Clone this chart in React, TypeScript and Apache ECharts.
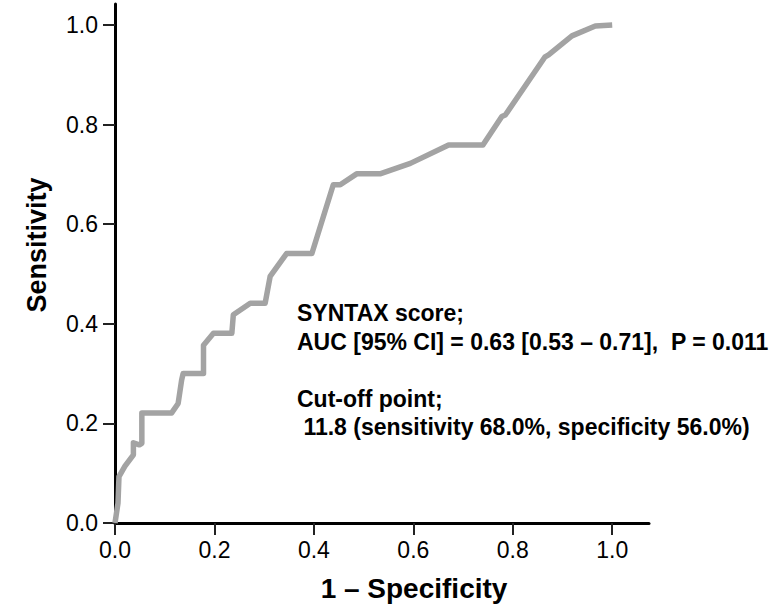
import React, { useEffect, useRef } from "react";
import * as echarts from "echarts";

const fpr = [0, 0.006, 0.008, 0.02, 0.037, 0.037, 0.049, 0.054, 0.054, 0.114, 0.127, 0.134, 0.137, 0.178, 0.178, 0.198, 0.235, 0.238, 0.272, 0.302, 0.312, 0.345, 0.396, 0.439, 0.453, 0.486, 0.533, 0.594, 0.671, 0.74, 0.778, 0.785, 0.865, 0.872, 0.919, 0.966, 1.0];
const tpr = [0, 0.04, 0.093, 0.114, 0.137, 0.161, 0.157, 0.16, 0.221, 0.221, 0.24, 0.287, 0.3, 0.3, 0.357, 0.381, 0.381, 0.418, 0.441, 0.441, 0.495, 0.541, 0.541, 0.679, 0.679, 0.701, 0.701, 0.722, 0.759, 0.759, 0.816, 0.819, 0.936, 0.94, 0.978, 0.998, 1.0];
const tickValues = [0, 0.2, 0.4, 0.6, 0.8, 1.0];
const xTitle = "1 – Specificity";
const yTitle = "Sensitivity";
const noteLines = [
  "SYNTAX score;",
  "AUC [95% CI] = 0.63 [0.53 – 0.71],  P = 0.011",
  "",
  "Cut-off point;",
  " 11.8 (sensitivity 68.0%, specificity 56.0%)",
];

const FONT = "'Liberation Sans', Arial, sans-serif";

export default function App() {
  const ref = useRef<HTMLDivElement>(null);
  useEffect(() => {
    if (!ref.current) return;
    document.body.style.margin = "0";
    const chart = echarts.init(ref.current, null, { renderer: "svg" });
    const axisCommon = {
      type: "value",
      min: 0,
      axisLine: { show: true, onZero: false, lineStyle: { color: "#000", width: 3 } },
      axisTick: { show: true, customValues: tickValues, length: 12, lineStyle: { color: "#222", width: 2 } },
      splitLine: { show: false },
    };
    const labelCommon = {
      customValues: tickValues,
      formatter: (v: number) => v.toFixed(1),
      fontFamily: FONT,
      fontSize: 23,
      color: "#000",
    };
    chart.setOption({
      animation: false,
      backgroundColor: "#fff",
      grid: { left: 115, top: 4, right: 125, bottom: 84, containLabel: false },
      xAxis: { ...axisCommon, max: 1.074, axisLabel: { ...labelCommon, margin: 15 } },
      yAxis: { ...axisCommon, max: 1.042, axisLabel: { ...labelCommon, margin: 17 } },
      series: [
        {
          type: "line",
          data: fpr.map((x, i) => [x, tpr[i]]),
          showSymbol: false,
          symbol: "none",
          lineStyle: { color: "#a3a3a3", width: 5.5, join: "round" },
          z: 1,
        },
      ],
      graphic: [
        {
          type: "text",
          left: 297,
          top: 299,
          style: {
            text: noteLines.join("\n"),
            font: `bold 23px ${FONT}`,
            fill: "#000",
            lineHeight: 28.5,
          },
        },
        {
          type: "text",
          x: 414,
          y: 588,
          style: {
            text: xTitle,
            font: `bold 28px ${FONT}`,
            fill: "#000",
            align: "center",
            verticalAlign: "middle",
          },
        },
        {
          type: "text",
          x: 37,
          y: 245,
          rotation: Math.PI / 2,
          style: {
            text: yTitle,
            font: `bold 27px ${FONT}`,
            fill: "#000",
            align: "center",
            verticalAlign: "middle",
          },
        },
      ],
    });
    return () => chart.dispose();
  }, []);
  return <div ref={ref} style={{ width: 774, height: 607 }} />;
}
